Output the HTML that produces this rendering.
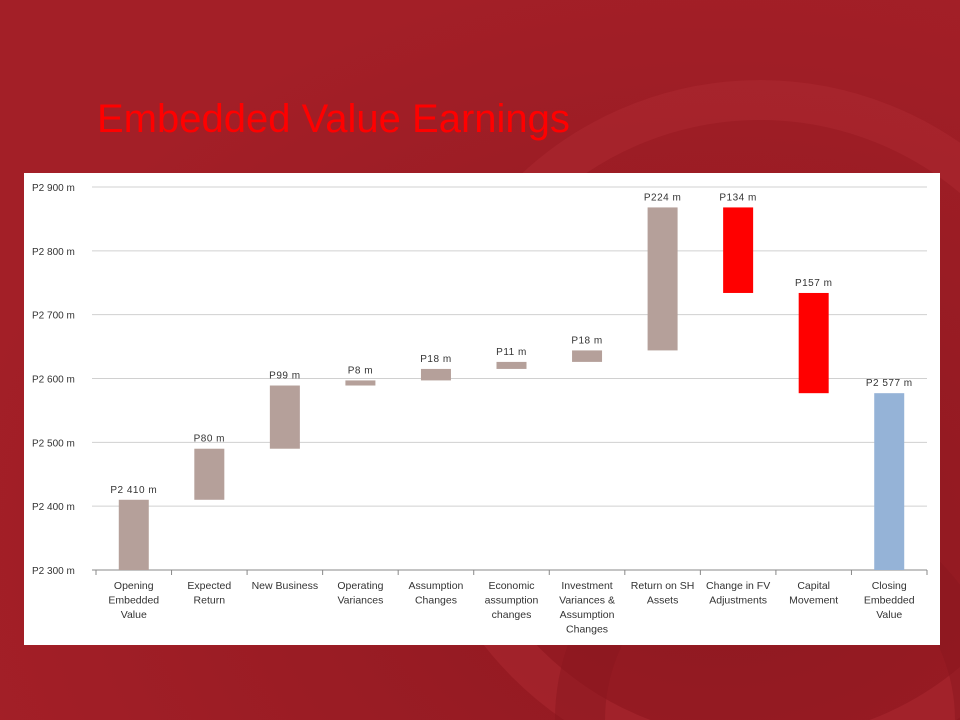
<!DOCTYPE html>
<html><head><meta charset="utf-8"><style>
html,body{margin:0;width:960px;height:720px;overflow:hidden}
body{background:#9f1d25;font-family:"Liberation Sans",sans-serif}
svg{display:block}
</style></head><body>
<svg width="960" height="720" style="position:absolute;left:0;top:0">
<defs><radialGradient id="g" cx="0.75" cy="0.75" r="0.8"><stop offset="0" stop-color="#8e1820"/><stop offset="1" stop-color="#a31f27"/></radialGradient></defs>
<rect width="960" height="720" fill="url(#g)"/>
<circle cx="760" cy="430" r="330" fill="none" stroke="#ad2a31" stroke-width="40" opacity="0.5"/>
<circle cx="780" cy="720" r="200" fill="none" stroke="#8a151d" stroke-width="50" opacity="0.5"/>
<text x="97" y="132" font-size="40" fill="#ff0000">Embedded Value Earnings</text>
<rect x="24" y="173" width="916" height="472" fill="#fff"/>
<g id="chart"></g>
</svg>
<script>
const categories=[["Opening","Embedded","Value"],["Expected","Return"],["New Business"],["Operating","Variances"],["Assumption","Changes"],["Economic","assumption","changes"],["Investment","Variances &","Assumption","Changes"],["Return on SH","Assets"],["Change in FV","Adjustments"],["Capital","Movement"],["Closing","Embedded","Value"]];
const deltas=[2410,80,99,8,18,11,18,224,-134,-157,2577];
const kinds=["total","up","up","up","up","up","up","up","down","down","total"];
const valueLabels=["P2 410 m","P80 m","P99 m","P8 m","P18 m","P11 m","P18 m","P224 m","P134 m","P157 m","P2 577 m"];
const yTicks=[2300,2400,2500,2600,2700,2800,2900];
const yTickLabels=["P2 300 m","P2 400 m","P2 500 m","P2 600 m","P2 700 m","P2 800 m","P2 900 m"];
const NS="http://www.w3.org/2000/svg";
const g=document.getElementById('chart');
const x0=96,x1=927,yMin=2300,yMax=2900,py0=570,py1=187;
const y=v=>py0-(v-yMin)/(yMax-yMin)*(py0-py1);
const bw=(x1-x0)/categories.length;
const xc=i=>x0+bw*(i+0.5);
function mk(t,a,txt){const e=document.createElementNS(NS,t);for(const k in a)e.setAttribute(k,a[k]);if(txt!=null)e.textContent=txt;g.appendChild(e);return e;}
yTicks.forEach((v,i)=>{
 const l=mk('line',{x1:x0-4,x2:x1,y1:y(v),y2:y(v),stroke:i==0?'#888':'#d0d0d0','stroke-width':1});
 
 
 const t=mk('text',{x:32,y:y(v)+4,'font-size':10,fill:'#333'},yTickLabels[i]);
 
 
});
for(let i=0;i<=categories.length;i++){
 const l=mk('line',{x1:x0+bw*i,x2:x0+bw*i,y1:py0,y2:py0+5,stroke:'#888'});
 
 
}
let cum=0;
deltas.forEach((d,i)=>{
 let lo,hi,col;
 if(kinds[i]=="total"){lo=yMin;hi=d;cum=d;col=i==0?'#b5a09a':'#95b3d7';}
 else{const s=cum;cum+=d;lo=Math.min(s,cum);hi=Math.max(s,cum);col=kinds[i]=="up"?'#b5a09a':'#ff0000';}
 const r=mk('rect',{x:xc(i)-15,width:30,y:y(hi),height:y(lo)-y(hi),fill:col});
 
 
 const t=mk('text',{x:xc(i),y:y(hi)-7,'font-size':10,fill:'#333','text-anchor':'middle','letter-spacing':'0.5'},valueLabels[i]);
 
 
 categories[i].forEach((ln,j)=>{
  const c=mk('text',{x:xc(i),y:py0+19+j*14.5,'font-size':10.5,fill:'#333','text-anchor':'middle'},ln);
  
  
 });
});
</script>
</body></html>
